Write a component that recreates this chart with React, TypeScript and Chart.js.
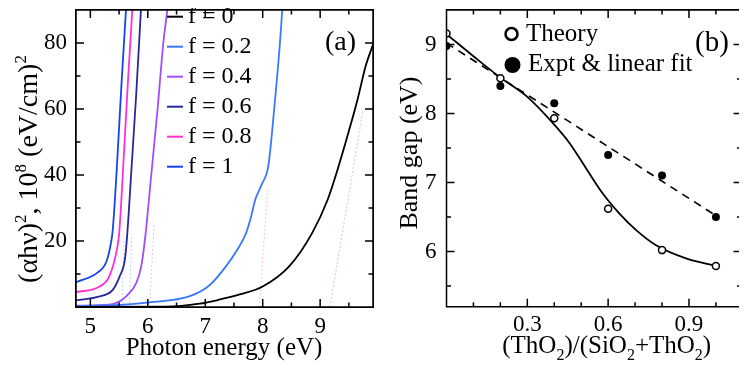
import React, { useEffect, useRef } from 'react';
import { Chart, registerables } from 'chart.js';

Chart.register(...registerables);

const SERIF = '"Liberation Serif", "Times New Roman", "DejaVu Serif", serif';

// ---------- Panel (a): (alpha h nu)^2 vs photon energy ----------
const fLabels = ['f = 0', 'f = 0.2', 'f = 0.4', 'f = 0.6', 'f = 0.8', 'f = 1'];
const fColors = ['#000000', '#3a78ff', '#a24cff', '#28289a', '#ff2fd8', '#1444ee'];

const eF0 = [4.75, 6.3, 6.9, 7.24, 7.6, 8.0, 8.46, 8.86, 9.13, 9.32, 9.49, 9.65, 9.79, 9.92];
const aF0 = [0, 0.1, 1.0, 2.2, 3.8, 6.2, 12.3, 22.4, 32.5, 42.6, 52.7, 62.8, 72.9, 79.5];
const eF02 = [4.75, 5.51, 6.03, 6.72, 7.07, 7.36, 7.56, 7.71, 7.8, 7.87, 7.98, 8.1, 8.2, 8.3, 8.34];
const aF02 = [0.3, 0.6, 1.4, 3.2, 6.5, 12.3, 17.4, 22.4, 27.5, 32.5, 37.0, 43.0, 60, 80, 90];
const eF04 = [4.75, 5.33, 5.51, 5.65, 5.8, 5.885, 5.95, 6.06, 6.17, 6.27, 6.34];
const aF04 = [0.4, 0.7, 1.7, 3.7, 7.3, 12.3, 20.4, 40, 60, 80, 90];
const eF06 = [4.75, 5.16, 5.39, 5.51, 5.6, 5.635, 5.72, 5.8, 5.88];
const aF06 = [2.0, 3.2, 5.2, 9.3, 14.3, 20.4, 43, 65, 90];
const eF08 = [4.75, 5.16, 5.33, 5.45, 5.5, 5.58, 5.65, 5.73];
const aF08 = [4.5, 6.2, 9.3, 16.4, 22, 45, 67, 90];
const eF1 = [4.75, 5.13, 5.28, 5.36, 5.39, 5.47, 5.54, 5.62];
const aF1 = [7.5, 10.5, 13.8, 19.5, 23.4, 45, 67, 90];

const energySeries = [eF0, eF02, eF04, eF06, eF08, eF1];
const absSeries = [aF0, aF02, aF04, aF06, aF08, aF1];

// faint tangent (extrapolation) lines
const tangentE = [[9.17, 9.75], [7.94, 8.09], [6.03, 6.11], [5.68, 5.72], [5.55, 5.59]];
const tangentA = [[0, 60], [0, 36], [0, 25], [0, 22], [0, 22]];
const tangentColors = ['rgba(140,190,255,0.7)', 'rgba(255,160,225,0.7)', 'rgba(200,160,255,0.6)', 'rgba(140,190,255,0.6)', 'rgba(140,190,255,0.6)'];

// ---------- Panel (b): band gap vs composition ----------
const xFrac = [0, 0.2, 0.4, 0.6, 0.8, 1.0];
const gapTheory = [9.16, 8.51, 7.93, 6.62, 6.02, 5.79];
const gapExpt = [8.98, 8.4, 8.15, 7.4, 7.1, 6.5];
const fitX = [0, 1.0];
const fitY = [9.02, 6.52];
const curveX = [0, 0.1, 0.2, 0.3, 0.395, 0.457, 0.519, 0.58, 0.642, 0.704, 0.778, 0.889, 1.0];
const curveY = [9.15, 8.83, 8.52, 8.24, 7.86, 7.57, 7.2, 6.84, 6.55, 6.31, 6.09, 5.9, 5.79];

const toPts = (xs: number[], ys: number[]) => xs.map((x, i) => ({ x, y: ys[i] }));

type Part = { t: string; s?: number };

function drawRich(ctx: CanvasRenderingContext2D, parts: Part[], cx: number, cy: number, size: number, rot: number) {
  ctx.save();
  ctx.translate(cx, cy);
  ctx.rotate(rot);
  const small = Math.round(size * 0.62);
  let total = 0;
  const widths = parts.map((p) => {
    ctx.font = `${p.s ? small : size}px ${SERIF}`;
    const w = ctx.measureText(p.t).width;
    total += w;
    return w;
  });
  let x = -total / 2;
  ctx.textAlign = 'left';
  ctx.textBaseline = 'alphabetic';
  ctx.fillStyle = '#000';
  const base = size * 0.26;
  parts.forEach((p, i) => {
    ctx.font = `${p.s ? small : size}px ${SERIF}`;
    const dy = p.s === 1 ? -size * 0.42 : p.s === -1 ? size * 0.28 : 0;
    ctx.fillText(p.t, x, base + dy);
    x += widths[i];
  });
  ctx.restore();
}

function drawFrame(chart: any, cfg: any) {
  const ctx = chart.ctx;
  const xs = chart.scales.x;
  const ys = chart.scales.y;
  const left = xs.getPixelForValue(xs.min);
  const right = xs.getPixelForValue(xs.max);
  const top = ys.getPixelForValue(ys.max);
  const bottom = ys.getPixelForValue(ys.min);
  ctx.save();
  ctx.globalAlpha = 1;
  ctx.globalCompositeOperation = 'source-over';
  ctx.strokeStyle = '#000000';
  ctx.lineWidth = 1.5;
  ctx.setLineDash([]);
  ctx.beginPath();
  const steps = (scale: any, minor: number, major: number, cb: (p: number, len: number) => void) => {
    const k0 = Math.ceil(scale.min / minor - 1e-9);
    const k1 = Math.floor(scale.max / minor + 1e-9);
    for (let k = k0; k <= k1; k++) {
      const v = k * minor;
      const r = v / major;
      const isMajor = Math.abs(r - Math.round(r)) < 1e-6;
      cb(scale.getPixelForValue(v), isMajor ? 8 : 4.5);
    }
  };
  steps(xs, cfg.xMinor, cfg.xMajor, (p, len) => {
    ctx.moveTo(p, bottom); ctx.lineTo(p, bottom - len);
    ctx.moveTo(p, top); ctx.lineTo(p, top + len);
  });
  steps(ys, cfg.yMinor, cfg.yMajor, (p, len) => {
    ctx.moveTo(left, p); ctx.lineTo(left + len, p);
    ctx.moveTo(right, p); ctx.lineTo(right - len, p);
  });
  ctx.moveTo(left, top);
  ctx.lineTo(right, top);
  ctx.lineTo(right, bottom);
  ctx.lineTo(left, bottom);
  ctx.closePath();
  ctx.stroke();
  ctx.restore();
}

function drawExtrasA(ctx: CanvasRenderingContext2D) {
  ctx.save();
  fLabels.forEach((lab, i) => {
    const y = 16.7 + 30 * i;
    ctx.strokeStyle = fColors[i];
    ctx.lineWidth = 2;
    ctx.setLineDash([]);
    ctx.beginPath();
    ctx.moveTo(167, y);
    ctx.lineTo(183, y);
    ctx.stroke();
    ctx.fillStyle = '#000';
    ctx.font = `24px ${SERIF}`;
    ctx.textAlign = 'left';
    ctx.textBaseline = 'middle';
    ctx.fillText(lab, 188, y);
  });
  ctx.font = `28px ${SERIF}`;
  ctx.textBaseline = 'alphabetic';
  ctx.fillText('(a)', 325, 43 + 28 * 0.26);
  ctx.restore();
  drawRich(ctx, [{ t: 'Photon energy (eV)' }], 224, 348, 25, 0);
  drawRich(ctx, [{ t: '(αhν)' }, { t: '2', s: 1 }, { t: ', 10' }, { t: '8', s: 1 }, { t: ' (eV/cm)' }, { t: '2', s: 1 }], 30, 169, 28, -Math.PI / 2);
}

function drawExtrasB(ctx: CanvasRenderingContext2D) {
  ctx.save();
  ctx.strokeStyle = '#000';
  ctx.fillStyle = '#000';
  ctx.lineWidth = 2.5;
  ctx.setLineDash([]);
  ctx.beginPath();
  ctx.arc(131.5, 34, 6, 0, Math.PI * 2);
  ctx.stroke();
  ctx.beginPath();
  ctx.arc(132.5, 65, 8, 0, Math.PI * 2);
  ctx.fill();
  ctx.font = `25px ${SERIF}`;
  ctx.textAlign = 'left';
  ctx.textBaseline = 'middle';
  ctx.fillText('Theory', 146, 34);
  ctx.fillText('Expt & linear fit', 148, 64.5);
  ctx.font = `29px ${SERIF}`;
  ctx.textBaseline = 'alphabetic';
  ctx.fillText('(b)', 315, 43 + 29 * 0.26);
  ctx.restore();
  drawRich(ctx, [{ t: 'Band gap (eV)' }], 30.5, 153, 26, -Math.PI / 2);
  drawRich(ctx, [{ t: '(ThO' }, { t: '2', s: -1 }, { t: ')/(SiO' }, { t: '2', s: -1 }, { t: '+ThO' }, { t: '2', s: -1 }, { t: ')' }], 226.7, 346, 25, 0);
}

const tickFont = { family: SERIF, size: 23 };

const fitX0 = (s: any) => { s.paddingLeft = 0; s.paddingRight = 0; };
const fitY0 = (s: any) => { s.paddingTop = 0; s.paddingBottom = 0; };

function configA(): any {
  const curves = energySeries.map((xs, i) => ({
    label: fLabels[i],
    data: toPts(xs, absSeries[i]),
    borderColor: fColors[i],
    borderWidth: 1.8,
    pointRadius: 0,
    fill: false,
    cubicInterpolationMode: 'monotone',
    order: 1,
  }));
  const tangents = tangentE.map((xs, i) => ({
    label: 'tangent' + i,
    data: toPts(xs, tangentA[i]),
    borderColor: tangentColors[i],
    borderWidth: 1,
    borderDash: [2, 2],
    pointRadius: 0,
    fill: false,
    order: 2,
  }));
  const cfg = { xMinor: 0.5, xMajor: 1, yMinor: 10, yMajor: 20 };
  return {
    type: 'line',
    data: { datasets: [...curves, ...tangents] },
    options: {
      animation: false,
      responsive: false,
      devicePixelRatio: 1,
      events: [],
      layout: { padding: { left: 0, right: 7, top: 10, bottom: 0 } },
      plugins: { legend: { display: false }, tooltip: { enabled: false } },
      scales: {
        x: {
          type: 'linear', min: 4.75, max: 9.92,
          grid: { display: false, drawTicks: false }, border: { display: false },
          ticks: { stepSize: 1, includeBounds: false, padding: 6, font: tickFont, color: '#000', maxRotation: 0, autoSkip: false },
          afterFit: (s: any) => { s.height = 66; fitX0(s); },
        },
        y: {
          type: 'linear', min: 0, max: 90,
          grid: { display: false, drawTicks: false }, border: { display: false },
          ticks: { stepSize: 20, includeBounds: false, padding: 9, font: tickFont, color: '#000', autoSkip: false,
            callback: (v: any) => (v === 0 ? '' : String(v)) },
          afterFit: (s: any) => { s.width = 76; fitY0(s); },
        },
      },
    },
    plugins: [{
      id: 'decorA',
      afterDraw(chart: any) { drawFrame(chart, cfg); drawExtrasA(chart.ctx); },
    }],
  };
}

function configB(): any {
  const cfg = { xMinor: 0.1, xMajor: 0.3, yMinor: 0.5, yMajor: 1 };
  return {
    type: 'line',
    data: {
      datasets: [
        { label: 'Theory', data: toPts(xFrac, gapTheory), showLine: false, pointRadius: 3.5, pointBorderWidth: 1.5, pointBackgroundColor: '#fff', pointBorderColor: '#000', borderColor: '#000', order: 0 },
        { label: 'Expt', data: toPts(xFrac, gapExpt), showLine: false, pointRadius: 4, pointBorderWidth: 0, pointBackgroundColor: '#000', borderColor: '#000', order: 0 },
        { label: 'Theory curve', data: toPts(curveX, curveY), borderColor: '#000', borderWidth: 1.8, pointRadius: 0, fill: false, cubicInterpolationMode: 'monotone', order: 1 },
        { label: 'Linear fit', data: toPts(fitX, fitY), borderColor: '#000', borderWidth: 1.6, borderDash: [8, 6], pointRadius: 0, fill: false, order: 1 },
      ],
    },
    options: {
      animation: false,
      responsive: false,
      devicePixelRatio: 1,
      events: [],
      layout: { padding: { left: 0, right: 4.3, top: 10, bottom: 0 } },
      plugins: { legend: { display: false }, tooltip: { enabled: false } },
      scales: {
        x: {
          type: 'linear', min: 0, max: 1.095,
          grid: { display: false, drawTicks: false }, border: { display: false },
          ticks: { stepSize: 0.3, includeBounds: false, padding: 4, font: tickFont, color: '#000', maxRotation: 0, autoSkip: false,
            callback: (v: any) => (Math.abs(v) < 1e-9 ? '' : Number(v).toFixed(1)) },
          afterFit: (s: any) => { s.height = 66.3; fitX0(s); },
        },
        y: {
          type: 'linear', min: 5.2, max: 9.5,
          grid: { display: false, drawTicks: false }, border: { display: false },
          ticks: { stepSize: 1, includeBounds: false, padding: 10, font: tickFont, color: '#000', autoSkip: false },
          afterFit: (s: any) => { s.width = 66.5; fitY0(s); },
        },
      },
    },
    plugins: [{
      id: 'decorB',
      afterDraw(chart: any) { drawFrame(chart, cfg); drawExtrasB(chart.ctx); },
    }],
  };
}

const frameStyle = (left: number, top: number, width: number, height: number): React.CSSProperties => ({
  position: 'absolute', left, top, width, height, boxSizing: 'border-box',
  border: '1.5px solid #000', pointerEvents: 'none',
});

export default function App() {
  const refA = useRef<HTMLCanvasElement>(null);
  const refB = useRef<HTMLCanvasElement>(null);
  useEffect(() => {
    const a = new Chart(refA.current as HTMLCanvasElement, configA());
    const b = new Chart(refB.current as HTMLCanvasElement, configB());
    return () => {
      a.destroy();
      b.destroy();
    };
  }, []);
  return (
    <div style={{ position: 'relative', margin: -8, width: 747, height: 373, background: '#fff', overflow: 'hidden' }}>
      <div style={{ display: 'flex', width: 747, height: 373 }}>
        <canvas ref={refA} width={380} height={373} style={{ display: 'block', width: 380, height: 373 }} />
        <canvas ref={refB} width={367} height={373} style={{ display: 'block', width: 367, height: 373 }} />
      </div>
      <div style={frameStyle(75.3, 9.3, 298.4, 298.4)} />
      <div style={frameStyle(445.8, 9.3, 297.6, 298.1)} />
    </div>
  );
}
